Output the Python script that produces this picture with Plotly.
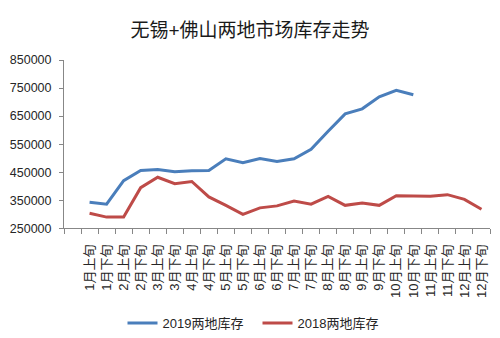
import plotly.graph_objects as go

# Ten-day periods (上旬 / 下旬) for each month
periods = [f"{m}月{h}" for m in range(1, 13) for h in ("上旬", "下旬")]

# Combined Wuxi + Foshan inventory (tonnes)
stock_2019 = [343000, 336000, 420000, 456000, 460000, 452000, 455000, 456000,
              498000, 484000, 499000, 488000, 498000, 532000, 596000, 658000,
              676000, 719000, 742000, 726000]
stock_2018 = [304000, 290000, 290000, 395000, 432000, 409000, 417000, 362000,
              332000, 300000, 323000, 330000, 347000, 336000, 364000, 332000,
              340000, 332000, 366000, 366000, 364000, 370000, 353000, 318000]

y_ticks = [250000, 350000, 450000, 550000, 650000, 750000, 850000]

FONT = "Liberation Sans, Noto Sans CJK SC, sans-serif"
AXIS_GREY = "#878787"

x_idx = list(range(len(periods)))

fig = go.Figure()
fig.add_trace(go.Scatter(
    x=x_idx[:len(stock_2019)], y=stock_2019, mode="lines",
    name="2019两地库存", line=dict(color="#4A7EBB", width=3),
))
fig.add_trace(go.Scatter(
    x=x_idx, y=stock_2018, mode="lines",
    name="2018两地库存", line=dict(color="#BE4B48", width=3),
))

fig.update_layout(
    width=500, height=338,
    margin=dict(l=63, r=10, t=60, b=104),
    paper_bgcolor="white", plot_bgcolor="white",
    font=dict(family=FONT, color="#262626", size=12),
    title=dict(text="无锡+佛山两地市场库存走势", x=0.5, xanchor="center",
               y=1 - 30 / 338, yanchor="middle",
               font=dict(size=19, color="#1a1a1a", family=FONT)),
    showlegend=True,
    legend=dict(orientation="h", xref="container", x=0.515, xanchor="center",
                yref="container", y=1 - 323 / 338, yanchor="middle",
                font=dict(size=13, color="#262626"),
                itemwidth=30, entrywidth=90, traceorder="normal"),
)

fig.update_xaxes(
    range=[-1.5, len(periods) - 0.5],
    tickmode="array", tickvals=x_idx, ticktext=periods,
    tickangle=-90, tickfont=dict(size=13),
    ticks="outside", ticklen=10, tickcolor="rgba(0,0,0,0)",
    minor=dict(tickmode="linear", tick0=0.5, dtick=1, ticks="outside",
               ticklen=5, tickcolor=AXIS_GREY, showgrid=False),
    showline=True, linecolor=AXIS_GREY, linewidth=1,
    showgrid=False, zeroline=False, fixedrange=True,
)
fig.update_yaxes(
    range=[250000, 850000],
    tickmode="array", tickvals=y_ticks, ticktext=[str(v) for v in y_ticks],
    tickfont=dict(size=12.5), ticklabelstandoff=5,
    ticks="outside", ticklen=4, tickcolor=AXIS_GREY,
    showline=True, linecolor=AXIS_GREY, linewidth=1,
    showgrid=False, zeroline=False, fixedrange=True,
)

fig.write_html("out.html", config={"displayModeBar": False})
